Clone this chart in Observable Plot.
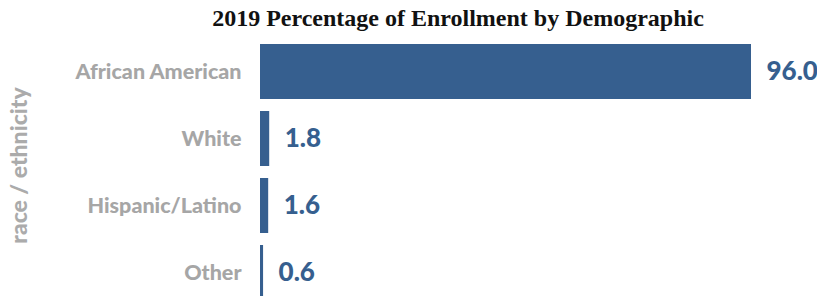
<!DOCTYPE html>
<html>
<head>
<meta charset="utf-8">
<script src="https://cdn.jsdelivr.net/npm/d3@7"></script>
<script src="https://cdn.jsdelivr.net/npm/@observablehq/plot@0.6"></script>
<style>
  html, body { margin: 0; padding: 0; background: #fff; overflow: hidden; }
  #wrap { position: relative; width: 817px; height: 296px; }
  #title { position: absolute; top: 5px; left: 0; width: 916px; text-align: center;
           font-family: "Liberation Serif", serif; font-weight: bold; font-size: 24px; color: #111; }
  #chart svg { display: block; }
</style>
</head>
<body>
<div id="wrap">
  <div id="chart"></div>
  <div id="title">2019 Percentage of Enrollment by Demographic</div>
</div>
<script>
const titleText = "2019 Percentage of Enrollment by Demographic";
const categories = ["African American", "White", "Hispanic/Latino", "Other"];
const values = [96.0, 1.8, 1.6, 0.6];
const axisLabel = "race / ethnicity";

const data = categories.map((c, i) => ({cat: c, value: values[i]}));
const barColor = "#365f8f";

const chart = Plot.plot({
  width: 817,
  height: 296,
  marginLeft: 260,
  marginRight: 0,
  marginTop: 42,
  marginBottom: 0,
  style: {fontFamily: "Lato, sans-serif", background: "#fff"},
  x: {domain: [0, d3.max(values)], range: [260, 751], axis: null},
  y: {domain: categories, range: [42, 302], paddingInner: 0.176, paddingOuter: 0},
  marks: [
    Plot.barX(data, {x: "value", y: "cat", fill: barColor}),
    Plot.text(data, {x: "value", y: "cat", text: d => d.value.toFixed(1), textAnchor: "start",
      dx: 15, fontSize: 26, fontWeight: 900, fill: barColor}),
    Plot.axisY({tickSize: 0, tickPadding: 19, fontSize: 21.5, fontWeight: 900, color: "#a6a6a6",
      label: null}),
    Plot.text([axisLabel], {frameAnchor: "left", rotate: -90, dx: -241, dy: -4,
      fontSize: 23, fontWeight: 900, fill: "#ababab", textAnchor: "middle"})
  ]
});
document.getElementById("chart").appendChild(chart);
</script>
</body>
</html>
